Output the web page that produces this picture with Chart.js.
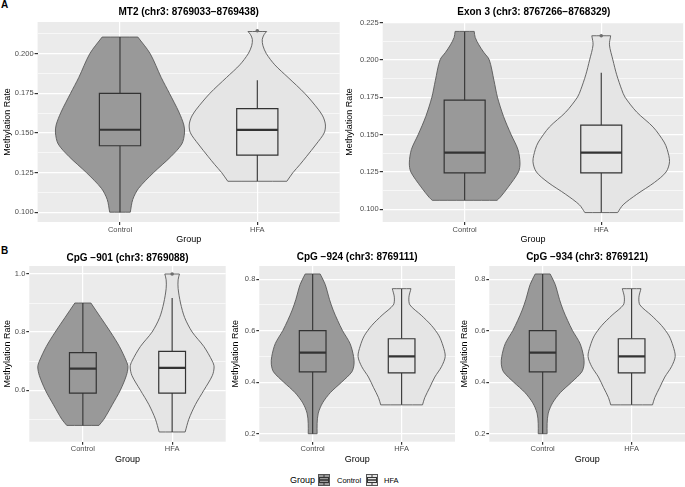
<!DOCTYPE html>
<html>
<head>
<meta charset="utf-8">
<script src="https://cdn.jsdelivr.net/npm/chart.js@4.4.1/dist/chart.umd.min.js"></script>
<style>
  body { margin: 0; background: #fff; width: 685px; height: 487px; position: relative; overflow: hidden;
         font-family: "Liberation Sans", Arial, sans-serif; }
  canvas { position: absolute; }
  .ttl { position: absolute; font-weight: bold; font-size: 10px; line-height: 12px; text-align: center; white-space: nowrap; color: #000; }
  .tag { position: absolute; font-weight: bold; font-size: 10px; line-height: 10px; color: #000; }
  .lg { position: absolute; white-space: nowrap; color: #000; }
  .lg svg { position: absolute; }
</style>
</head>
<body>
<div class="tag" style="left:1px;top:0px">A</div>
<div class="tag" style="left:1px;top:246px">B</div>

<div class="lg" style="left:290px;top:474px;font-size:9px;line-height:12px">Group</div>
<div class="lg" style="left:318px;top:474px">
  <svg width="12" height="12"><rect x="0.5" y="0.5" width="11" height="11" fill="#999" stroke="#555"/><line x1="6" y1="1" x2="6" y2="11" stroke="#333"/><rect x="1.5" y="3.5" width="9" height="5" fill="#999" stroke="#333"/><line x1="1.5" y1="6" x2="10.5" y2="6" stroke="#333" stroke-width="1.5"/></svg>
</div>
<div class="lg" style="left:337px;top:475px;font-size:7.5px;line-height:11px">Control</div>
<div class="lg" style="left:366px;top:474px">
  <svg width="12" height="12"><rect x="0.5" y="0.5" width="11" height="11" fill="#e5e5e5" stroke="#555"/><line x1="6" y1="1" x2="6" y2="11" stroke="#333"/><rect x="1.5" y="3.5" width="9" height="5" fill="#e5e5e5" stroke="#333"/><line x1="1.5" y1="6" x2="10.5" y2="6" stroke="#333" stroke-width="1.5"/></svg>
</div>
<div class="lg" style="left:384px;top:475px;font-size:7.5px;line-height:11px">HFA</div>

<script>
// ── Data ─────────────────────────────────────────────────
const groups = ["Control", "HFA"];

// MT2 (chr3: 8769033−8769438)
const mt2Ticks = [0.100, 0.125, 0.150, 0.175, 0.200];
const mt2TickLabels = ["0.100", "0.125", "0.150", "0.175", "0.200"];
const mt2Minor = [0.1125, 0.1375, 0.1625, 0.1875, 0.2125];
const mt2CtrlY = [0.1000, 0.1080, 0.1150, 0.1250, 0.1350, 0.1430, 0.1500, 0.1550, 0.1630, 0.1750, 0.1850, 0.2000, 0.2105];
const mt2CtrlW = [0.075, 0.093, 0.135, 0.245, 0.370, 0.450, 0.470, 0.465, 0.430, 0.360, 0.300, 0.220, 0.130];
const mt2HfaY = [0.1195, 0.1250, 0.1300, 0.1350, 0.1430, 0.1500, 0.1550, 0.1600, 0.1650, 0.1750, 0.1850, 0.1930, 0.2000, 0.2050, 0.2090, 0.2120, 0.2140];
const mt2HfaW = [0.215, 0.260, 0.310, 0.357, 0.430, 0.487, 0.496, 0.480, 0.443, 0.345, 0.224, 0.127, 0.066, 0.041, 0.036, 0.049, 0.068];
// box stats: [lower whisker, q1, median, q3, upper whisker]
const mt2CtrlBox = [0.1000, 0.1419, 0.1520, 0.1750, 0.2105];
const mt2HfaBox = [0.1195, 0.1360, 0.1519, 0.1654, 0.1833];
const mt2HfaOut = [0.2145];

// Exon 3 (chr3: 8767266−8768329)
const exonTicks = [0.100, 0.125, 0.150, 0.175, 0.200, 0.225];
const exonTickLabels = ["0.100", "0.125", "0.150", "0.175", "0.200", "0.225"];
const exonMinor = [0.1125, 0.1375, 0.1625, 0.1875, 0.2125];
const exonCtrlY = [0.1060, 0.1080, 0.1150, 0.1250, 0.1310, 0.1400, 0.1500, 0.1620, 0.1750, 0.1860, 0.2000, 0.2050, 0.2100, 0.2150, 0.2190];
const exonCtrlW = [0.237, 0.260, 0.320, 0.394, 0.405, 0.390, 0.340, 0.285, 0.240, 0.215, 0.180, 0.140, 0.104, 0.077, 0.070];
const exonHfaY = [0.0978, 0.1030, 0.1100, 0.1180, 0.1250, 0.1320, 0.1400, 0.1450, 0.1550, 0.1650, 0.1750, 0.1800, 0.1900, 0.2000, 0.2100, 0.2161];
const exonHfaW = [0.120, 0.160, 0.260, 0.390, 0.475, 0.500, 0.483, 0.460, 0.380, 0.260, 0.174, 0.150, 0.113, 0.085, 0.060, 0.069];
const exonCtrlBox = [0.1060, 0.1243, 0.1379, 0.1730, 0.2190];
const exonHfaBox = [0.0978, 0.1243, 0.1379, 0.1563, 0.1913];
const exonHfaOut = [0.2161];

// CpG −901 (chr3: 8769088)
const cpg901Ticks = [0.6, 0.8, 1.0];
const cpg901TickLabels = ["0.6", "0.8", "1.0"];
const cpg901Minor = [0.5, 0.7, 0.9];
const cpg901CtrlY = [0.4786, 0.50, 0.55, 0.60, 0.65, 0.68, 0.70, 0.75, 0.80, 0.85, 0.90];
const cpg901CtrlW = [0.180, 0.236, 0.330, 0.420, 0.487, 0.505, 0.487, 0.410, 0.310, 0.200, 0.090];
const cpg901HfaY = [0.456, 0.50, 0.55, 0.60, 0.65, 0.68, 0.70, 0.75, 0.80, 0.85, 0.90, 0.95, 0.98, 1.00];
const cpg901HfaW = [0.146, 0.187, 0.260, 0.356, 0.450, 0.470, 0.450, 0.356, 0.225, 0.140, 0.094, 0.067, 0.067, 0.082];
const cpg901CtrlBox = [0.4786, 0.5898, 0.6740, 0.7290, 0.9000];
const cpg901HfaBox = [0.4560, 0.5898, 0.6770, 0.7337, 0.9170];
const cpg901HfaOut = [1.0];

// CpG −924 / −934 (same distribution in the figure)
const cpgTicks = [0.2, 0.4, 0.6, 0.8];
const cpgTickLabels = ["0.2", "0.4", "0.6", "0.8"];
const cpgMinor = [0.3, 0.5, 0.7];
const cpg924CtrlY = [0.20, 0.24, 0.28, 0.32, 0.36, 0.40, 0.44, 0.47, 0.50, 0.55, 0.60, 0.64, 0.68, 0.72, 0.78, 0.82];
const cpg924CtrlW = [0.050, 0.050, 0.063, 0.112, 0.200, 0.325, 0.440, 0.465, 0.460, 0.420, 0.336, 0.280, 0.230, 0.190, 0.140, 0.084];
const cpg924HfaY = [0.312, 0.34, 0.38, 0.42, 0.46, 0.50, 0.54, 0.58, 0.62, 0.66, 0.70, 0.73, 0.763];
const cpg924HfaW = [0.235, 0.260, 0.317, 0.373, 0.448, 0.490, 0.466, 0.420, 0.336, 0.220, 0.093, 0.082, 0.105];
const cpg924CtrlBox = [0.200, 0.440, 0.5146, 0.600, 0.820];
const cpg924HfaBox = [0.312, 0.436, 0.5004, 0.5686, 0.763];

// ── Styling ──────────────────────────────────────────────
const FONT = "'Liberation Sans', Arial, sans-serif";
const FILLS = ["#999999", "#e5e5e5"];
const VIOLIN_LINE = "#595959";
const BOX_LINE = "#333333";
const BOX_HW = 0.15;

const panels = [
  { title: "MT2 (chr3: 8769033−8769438)", left: 0, top: 0, w: 342, h: 248, padTop: 22, padRight: 2.3, yW: 37.6, xH: 26, titleY: 12.3,
    yMin: 0.0938, yMax: 0.2200, ticks: mt2Ticks, labels: mt2TickLabels, minor: mt2Minor,
    violins: [[mt2CtrlY, mt2CtrlW], [mt2HfaY, mt2HfaW]], boxes: [mt2CtrlBox, mt2HfaBox], outliers: [[], mt2HfaOut] },
  { title: "Exon 3 (chr3: 8767266−8768329)", left: 342, top: 0, w: 343, h: 248, padTop: 22, padRight: 0, yW: 40.7, xH: 26, titleY: 12.3,
    yMin: 0.0915, yMax: 0.2253, ticks: exonTicks, labels: exonTickLabels, minor: exonMinor,
    violins: [[exonCtrlY, exonCtrlW], [exonHfaY, exonHfaW]], boxes: [exonCtrlBox, exonHfaBox], outliers: [[], exonHfaOut] },
  { title: "CpG −901 (chr3: 8769088)", left: 0, top: 248, w: 228, h: 220, padTop: 18, padRight: 2.3, yW: 29.3, xH: 26.3, titleY: 257.6,
    yMin: 0.4225, yMax: 1.0275, ticks: cpg901Ticks, labels: cpg901TickLabels, minor: cpg901Minor,
    violins: [[cpg901CtrlY, cpg901CtrlW], [cpg901HfaY, cpg901HfaW]], boxes: [cpg901CtrlBox, cpg901HfaBox], outliers: [[], cpg901HfaOut] },
  { title: "CpG −924 (chr3: 8769111)", left: 228, top: 248, w: 229, h: 220, padTop: 18, padRight: 2, yW: 31.3, xH: 26.3, titleY: 256.8,
    yMin: 0.169, yMax: 0.851, ticks: cpgTicks, labels: cpgTickLabels, minor: cpgMinor,
    violins: [[cpg924CtrlY, cpg924CtrlW], [cpg924HfaY, cpg924HfaW]], boxes: [cpg924CtrlBox, cpg924HfaBox], outliers: [[], []] },
  { title: "CpG −934 (chr3: 8769121)", left: 457, top: 248, w: 228, h: 220, padTop: 18, padRight: 0, yW: 32.3, xH: 26.3, titleY: 256.8,
    yMin: 0.169, yMax: 0.851, ticks: cpgTicks, labels: cpgTickLabels, minor: cpgMinor,
    violins: [[cpg924CtrlY, cpg924CtrlW], [cpg924HfaY, cpg924HfaW]], boxes: [cpg924CtrlBox, cpg924HfaBox], outliers: [[], []] },
];

// grey panel background like ggplot's theme_grey
const panelBg = {
  id: "panelBg",
  beforeDraw(chart) {
    const { ctx, chartArea: a } = chart;
    ctx.save();
    ctx.fillStyle = "#ebebeb";
    ctx.fillRect(a.left, a.top, a.right - a.left, a.bottom - a.top);
    ctx.restore();
  },
};

// violin outline: up the left side, down the right side. The end points of each
// side are repeated so the spline keeps the flat, cornered top and bottom cuts.
function violinOutline(cx, ys, ws) {
  const n = ys.length;
  const left = ys.map((y, i) => ({ x: cx - ws[i], y }));
  const right = ys.map((y, i) => ({ x: cx + ws[i], y })).reverse();
  const pts = [left[0], ...left, left[n - 1], right[0], ...right, right[n - 1], left[0]];
  return pts.map((p) => ({ ...p }));
}

function buildDatasets(p) {
  const sets = [];
  p.violins.forEach(([ys, ws], g) => {
    sets.push({ data: violinOutline(g + 1, ys, ws), fill: "shape", backgroundColor: FILLS[g], borderColor: VIOLIN_LINE,
                borderWidth: 0.9, tension: 0.3, order: 5 });
  });
  p.boxes.forEach(([lo, q1, med, q3, hi], g) => {
    const cx = g + 1;
    const line = { borderColor: BOX_LINE, borderWidth: 1.1, fill: false, tension: 0 };
    sets.push({ ...line, order: 3, data: [{ x: cx, y: lo }, { x: cx, y: q1 }] });
    sets.push({ ...line, order: 3, data: [{ x: cx, y: q3 }, { x: cx, y: hi }] });
    sets.push({ ...line, order: 2, fill: "shape", backgroundColor: FILLS[g], borderWidth: 1.2,
                borderJoinStyle: "miter", borderCapStyle: "square",
                data: [{ x: cx - BOX_HW, y: q1 }, { x: cx + BOX_HW, y: q1 }, { x: cx + BOX_HW, y: q3 },
                       { x: cx - BOX_HW, y: q3 }, { x: cx - BOX_HW, y: q1 }] });
    sets.push({ ...line, order: 1, borderWidth: 2.2,
                data: [{ x: cx - BOX_HW, y: med }, { x: cx + BOX_HW, y: med }] });
  });
  p.outliers.forEach((outs, g) => {
    if (!outs.length) return;
    sets.push({ data: outs.map((y) => ({ x: g + 1, y })), showLine: false, order: 0,
                pointRadius: 1.8, pointBackgroundColor: "#6e6e6e", pointBorderWidth: 0 });
  });
  return sets;
}

function makePanel(p) {
  const cv = document.createElement("canvas");
  cv.width = p.w; cv.height = p.h;
  Object.assign(cv.style, { left: p.left + "px", top: p.top + "px", width: p.w + "px", height: p.h + "px" });
  document.body.appendChild(cv);

  const t = document.createElement("div");
  t.className = "ttl";
  t.textContent = p.title;
  Object.assign(t.style, { left: p.left + p.yW + "px", width: p.w - p.yW - p.padRight + "px", top: p.titleY - 6 + "px" });
  document.body.appendChild(t);

  const isMajor = (v) => p.ticks.some((m) => Math.abs(m - v) < 1e-9);
  const tickFont = { family: FONT, size: 7.5 };
  const titleFont = { family: FONT, size: 9 };

  new Chart(cv, {
    type: "line",
    data: { datasets: buildDatasets(p) },
    plugins: [panelBg],
    options: {
      responsive: false,
      animation: false,
      devicePixelRatio: 1,
      events: [],
      layout: { padding: { top: p.padTop, right: p.padRight, left: 0, bottom: 0 } },
      plugins: { legend: { display: false }, tooltip: { enabled: false } },
      elements: { point: { radius: 0, hoverRadius: 0 } },
      scales: {
        x: {
          type: "linear", min: 0.4, max: 2.6,
          afterBuildTicks: (s) => { s.ticks = [{ value: 1 }, { value: 2 }]; },
          afterFit: (s) => { s.height = p.xH; },
          ticks: { callback: (v) => groups[Math.round(v) - 1], color: "#4d4d4d", font: tickFont,
                   padding: 0, maxRotation: 0, autoSkip: false },
          grid: { color: "#ffffff", lineWidth: 1.2, tickColor: "#333333", tickLength: 3 },
          border: { display: false },
          title: { display: true, text: "Group", color: "#000", font: titleFont, padding: { top: 0, bottom: 2.6 } },
        },
        y: {
          type: "linear", min: p.yMin, max: p.yMax,
          afterBuildTicks: (s) => {
            s.ticks = [...p.ticks, ...p.minor].sort((a, b) => a - b).map((v) => ({ value: v }));
          },
          afterFit: (s) => { s.width = p.yW; },
          ticks: {
            callback: (v) => { const i = p.ticks.findIndex((m) => Math.abs(m - v) < 1e-9); return i >= 0 ? p.labels[i] : ""; },
            color: "#4d4d4d", font: tickFont, padding: 1, autoSkip: false,
          },
          grid: {
            color: "#ffffff",
            lineWidth: (c) => (isMajor(c.tick.value) ? 1.2 : 0.6),
            tickColor: (c) => (isMajor(c.tick.value) ? "#333333" : "rgba(0,0,0,0)"),
            tickLength: 3,
          },
          border: { display: false },
          title: { display: true, text: "Methylation Rate", color: "#000", font: titleFont, padding: { top: 2.6, bottom: 0 } },
        },
      },
    },
  });
}

panels.forEach(makePanel);
</script>
</body>
</html>
